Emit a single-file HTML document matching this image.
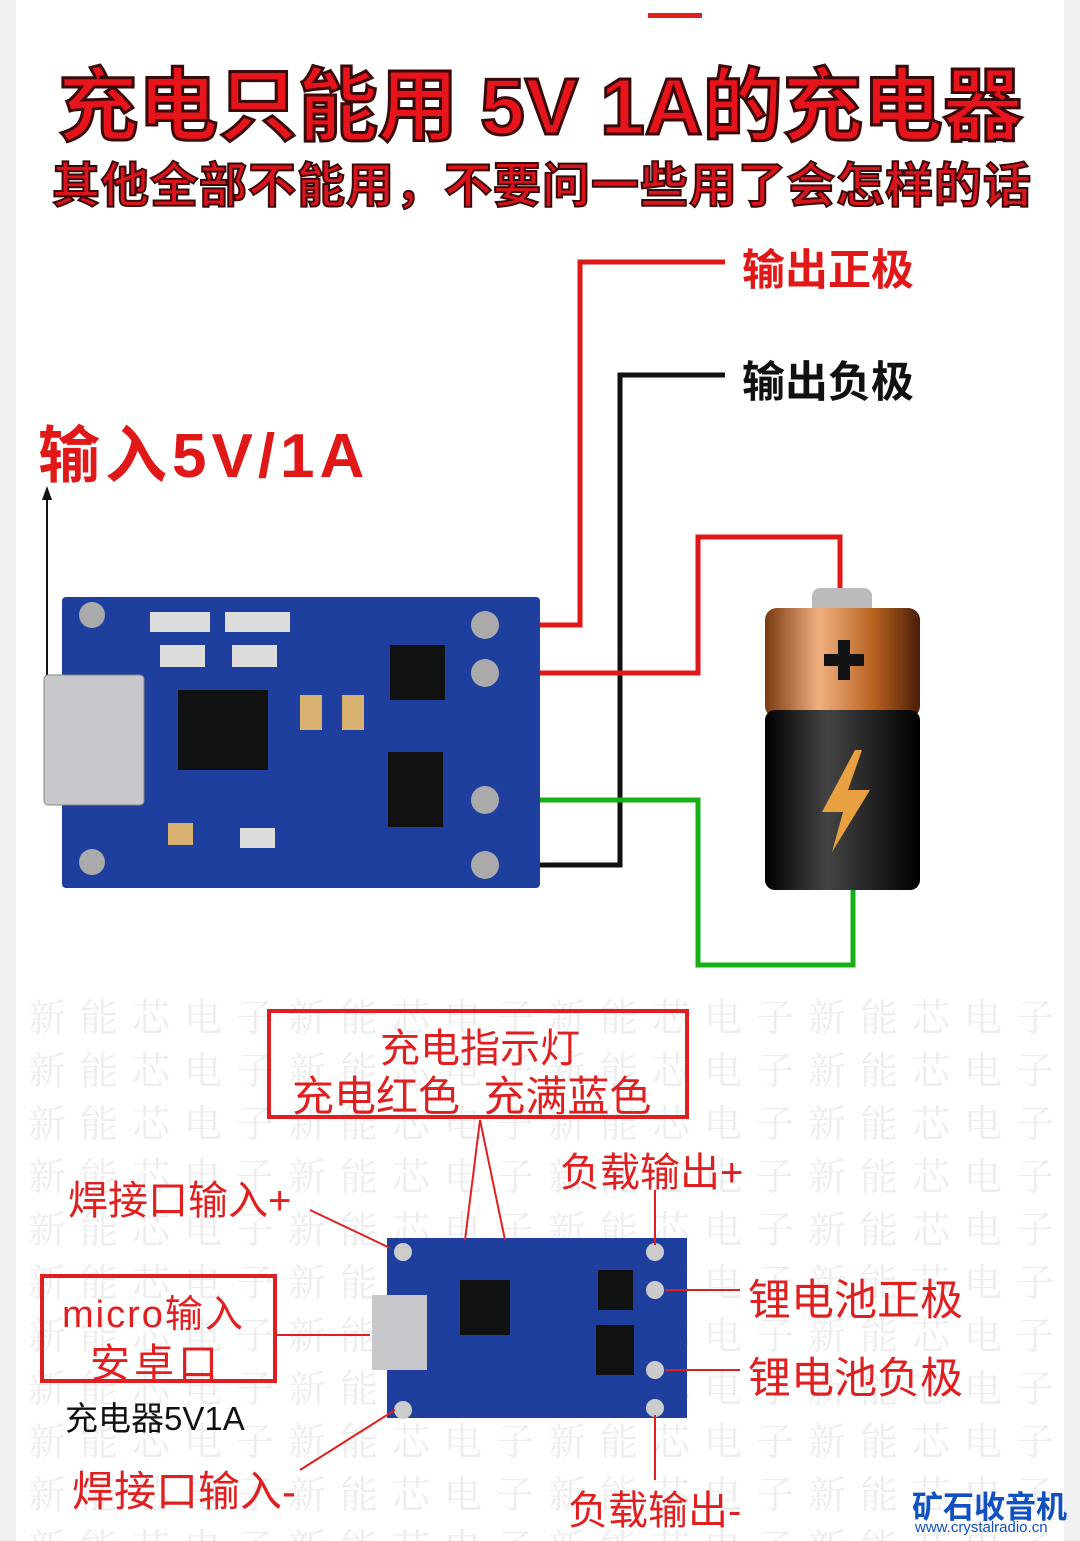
<!DOCTYPE html>
<html style="margin:0;width:1080px;height:1541px;overflow:hidden"><head><meta charset="utf-8"><style>
body{margin:0;width:1080px;height:1541px;background:#fff;position:relative;overflow:hidden;font-family:"Liberation Sans","Noto Sans CJK SC",sans-serif}
#root{position:absolute;left:0;top:0;width:1080px;height:1541px;overflow:hidden}
.a{position:absolute;white-space:nowrap}
.wm{position:absolute;left:28px;top:988px;width:1052px;height:553px;overflow:hidden;white-space:nowrap;color:#ededf0;font-size:38px;line-height:53px;letter-spacing:14px;font-family:"Noto Serif CJK SC",serif}
</style></head><body><div id="root">
<div class="a" style="left:0;top:0;width:16px;height:1541px;background:#f0f0f0"></div>
<div class="a" style="left:1064px;top:0;width:16px;height:1541px;background:#f0f0f0"></div>
<div class="a" style="left:648px;top:13px;width:54px;height:5px;background:#e0201c"></div>
<div class="wm">新能芯电子新能芯电子新能芯电子新能芯电子<br>新能芯电子新能芯电子新能芯电子新能芯电子<br>新能芯电子新能芯电子新能芯电子新能芯电子<br>新能芯电子新能芯电子新能芯电子新能芯电子<br>新能芯电子新能芯电子新能芯电子新能芯电子<br>新能芯电子新能芯电子新能芯电子新能芯电子<br>新能芯电子新能芯电子新能芯电子新能芯电子<br>新能芯电子新能芯电子新能芯电子新能芯电子<br>新能芯电子新能芯电子新能芯电子新能芯电子<br>新能芯电子新能芯电子新能芯电子新能芯电子<br>新能芯电子新能芯电子新能芯电子新能芯电子</div>
<div class="a" style="left:58px;top:42px;font-size:80px;font-weight:bold;color:#e8141c;-webkit-text-stroke:3px #3a0a0a;letter-spacing:0px">充电只能用 5V 1A的充电器</div>
<div class="a" style="left:52px;top:146px;font-size:48px;font-weight:bold;color:#d8141c;-webkit-text-stroke:2px #3a0a0a;letter-spacing:1px">其他全部不能用，不要问一些用了会怎样的话</div>
<svg class="a" style="left:0;top:0" width="1080" height="1541">
<polyline points="485,625 580,625 580,262 725,262" fill="none" stroke="#e01818" stroke-width="5"/>
<polyline points="485,865 620,865 620,375 725,375" fill="none" stroke="#111" stroke-width="5"/>
<polyline points="485,673 698,673 698,537 840,537 840,592" fill="none" stroke="#e01818" stroke-width="5"/>
<polyline points="485,800 698,800 698,965 853,965 853,890" fill="none" stroke="#18b018" stroke-width="5"/>
<line x1="47" y1="700" x2="47" y2="495" stroke="#111" stroke-width="2"/>
<polygon points="47,486 42,500 52,500" fill="#111"/>
<rect x="62" y="597" width="478" height="291" rx="4" fill="#1f3f9e"/>
<rect x="44" y="675" width="100" height="130" rx="4" fill="#c8c8cc" stroke="#888"/>
<rect x="178" y="690" width="90" height="80" fill="#111"/>
<rect x="390" y="645" width="55" height="55" fill="#111"/>
<rect x="388" y="752" width="55" height="75" fill="#111"/>
<g fill="#aaa"><circle cx="92" cy="615" r="13"/><circle cx="92" cy="862" r="13"/><circle cx="485" cy="625" r="14"/><circle cx="485" cy="673" r="14"/><circle cx="485" cy="800" r="14"/><circle cx="485" cy="865" r="14"/></g>
<g fill="#d8b070"><rect x="168" y="823" width="25" height="22"/><rect x="300" y="695" width="22" height="35"/><rect x="342" y="695" width="22" height="35"/></g>
<g fill="#ddd"><rect x="150" y="612" width="60" height="20"/><rect x="225" y="612" width="65" height="20"/><rect x="160" y="645" width="45" height="22"/><rect x="232" y="645" width="45" height="22"/><rect x="240" y="828" width="35" height="20"/></g>
<defs><linearGradient id="cu" x1="0" x2="1"><stop offset="0" stop-color="#7a3a10"/><stop offset=".35" stop-color="#f0b080"/><stop offset=".7" stop-color="#b8621f"/><stop offset="1" stop-color="#4a1e08"/></linearGradient>
<linearGradient id="bk" x1="0" x2="1"><stop offset="0" stop-color="#000"/><stop offset=".4" stop-color="#444"/><stop offset="1" stop-color="#000"/></linearGradient></defs>
<rect x="812" y="588" width="60" height="28" rx="8" fill="#bbb"/>
<rect x="765" y="608" width="155" height="110" rx="12" fill="url(#cu)"/>
<rect x="765" y="710" width="155" height="180" rx="10" fill="url(#bk)"/>
<rect x="838" y="640" width="12" height="40" fill="#111"/><rect x="824" y="654" width="40" height="12" fill="#111"/>
<polygon points="855,750 822,812 843,812 832,852 870,790 848,790 862,750" fill="#e8a040"/>
<rect x="269" y="1011" width="418" height="106" fill="none" stroke="#e02020" stroke-width="4"/>
<rect x="42" y="1276" width="233" height="105" fill="none" stroke="#e02020" stroke-width="4"/>
<rect x="387" y="1238" width="300" height="180" fill="#1f3f9e"/>
<rect x="372" y="1295" width="55" height="75" fill="#c8c8cc"/>
<rect x="460" y="1280" width="50" height="55" fill="#111"/>
<rect x="598" y="1270" width="35" height="40" fill="#111"/><rect x="596" y="1325" width="38" height="50" fill="#111"/>
<g fill="#ccc"><circle cx="403" cy="1252" r="9"/><circle cx="403" cy="1410" r="9"/><circle cx="655" cy="1252" r="9"/><circle cx="655" cy="1290" r="9"/><circle cx="655" cy="1370" r="9"/><circle cx="655" cy="1408" r="9"/></g>
<g stroke="#e02020" stroke-width="2" fill="none">
<line x1="480" y1="1120" x2="465" y2="1240"/><line x1="480" y1="1120" x2="505" y2="1240"/>
<line x1="310" y1="1210" x2="390" y2="1248"/><line x1="275" y1="1335" x2="370" y2="1335"/>
<line x1="300" y1="1470" x2="395" y2="1410"/><line x1="655" y1="1190" x2="655" y2="1245"/>
<line x1="665" y1="1290" x2="740" y2="1290"/><line x1="665" y1="1370" x2="740" y2="1370"/>
<line x1="655" y1="1415" x2="655" y2="1480"/></g>
</svg>
<div class="a" style="left:742px;top:236px;font-size:43px;font-weight:bold;color:#e01818">输出正极</div>
<div class="a" style="left:742px;top:348px;font-size:43px;font-weight:bold;color:#111">输出负极</div>
<div class="a" style="left:38px;top:405px;font-size:62px;font-weight:bold;color:#e01818;letter-spacing:5px">输入5V/1A</div>
<div class="a" style="left:380px;top:1016px;font-size:40px;color:#e02020">充电指示灯</div>
<div class="a" style="left:292px;top:1063px;font-size:42px;color:#e02020">充电红色&nbsp; 充满蓝色</div>
<div class="a" style="left:560px;top:1140px;font-size:40px;color:#e02020">负载输出+</div>
<div class="a" style="left:68px;top:1168px;font-size:40px;color:#e02020">焊接口输入+</div>
<div class="a" style="left:62px;top:1283px;font-size:38px;color:#e02020;letter-spacing:2px">micro输入</div>
<div class="a" style="left:90px;top:1331px;font-size:40px;color:#e02020;letter-spacing:4px">安卓口</div>
<div class="a" style="left:65px;top:1392px;font-size:33px;color:#111">充电器5V1A</div>
<div class="a" style="left:748px;top:1266px;font-size:43px;color:#e02020">锂电池正极</div>
<div class="a" style="left:748px;top:1344px;font-size:43px;color:#e02020">锂电池负极</div>
<div class="a" style="left:72px;top:1458px;font-size:42px;color:#e02020">焊接口输入-</div>
<div class="a" style="left:568px;top:1478px;font-size:40px;color:#e02020">负载输出-</div>
<div class="a" style="left:912px;top:1482px;font-size:31px;font-weight:bold;color:#1050c0">矿石收音机</div>
<div class="a" style="left:915px;top:1519px;font-size:15px;color:#1050c0">www.crystalradio.cn</div>
</div></body></html>
